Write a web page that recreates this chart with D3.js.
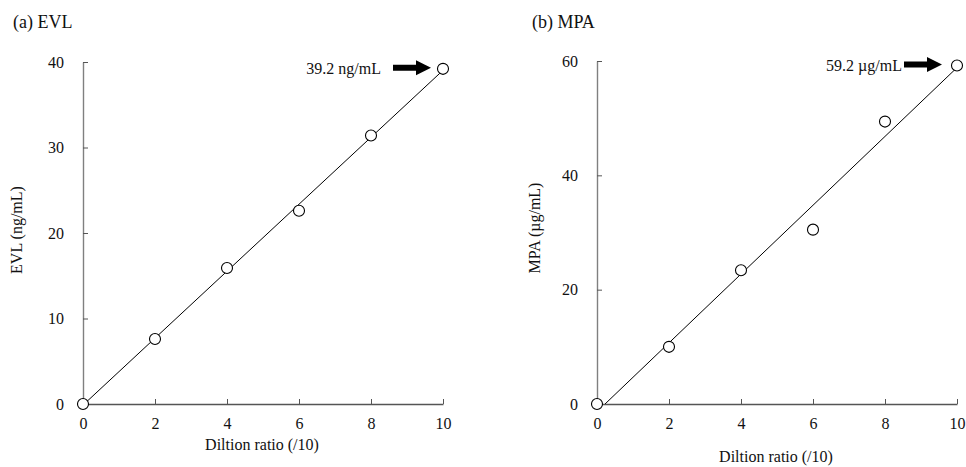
<!DOCTYPE html>
<html>
<head>
<meta charset="UTF-8">
<title>Dilution linearity (EVL / MPA)</title>
<script src="https://cdn.jsdelivr.net/npm/d3@7"></script>
<style>
body { margin: 0; background: #fff; }
svg text { font-family: "Liberation Serif", "Times New Roman", serif; fill: #111; }
</style>
</head>
<body>
<div id="plot"></div>
<script>

// data
var ratios    = [0, 2, 4, 6, 8, 10]
var evlValues = [0, 7.6, 15.9, 22.6, 31.4, 39.2]
var mpaValues = [0, 10.0, 23.4, 30.5, 49.4, 59.2]
var xTicks    = [0, 2, 4, 6, 8, 10]
var evlTicks  = [0, 10, 20, 30, 40]
var mpaTicks  = [0, 20, 40, 60]

var width = 966, height = 467
var serif = "'Liberation Serif', 'Times New Roman', serif"

var svg = d3.select("#plot").append("svg")
	.attr("width", width)
	.attr("height", height)

// panel layout (pixels), one entry per panel
var panels = [
	{ title: "(a) EVL", ylab: "EVL (ng/mL)", label: "39.2 ng/mL", values: evlValues, ymax: 40, yticks: evlTicks,
	  x0: 83, x1: 443, y0: 404, y1: 62, titleX: 13, ylabX: 22, ylabY: 230, xlabY: 450,
	  arrowGap: 12, textGap: 12 },
	{ title: "(b) MPA", ylab: "MPA (\u00b5g/mL)", label: "59.2 \u00b5g/mL", values: mpaValues, ymax: 60, yticks: mpaTicks,
	  x0: 597, x1: 957, y0: 404, y1: 61, titleX: 532, ylabX: 540, ylabY: 228, xlabY: 462,
	  arrowGap: 15, textGap: 2 }
]

// least squares fit for the trend line
function fit(xs, ys) {
	var mx = d3.mean(xs), my = d3.mean(ys)
	var sxy = d3.sum(xs, function(x, i) { return (x - mx) * (ys[i] - my) })
	var sxx = d3.sum(xs, function(x) { return (x - mx) * (x - mx) })
	var slope = sxy / sxx
	return { slope: slope, icpt: my - slope * mx }
}

function styleAxis(sel, domainColor) {
	sel.attr("font-family", null).attr("font-size", null)
	sel.select(".domain").attr("stroke", domainColor).attr("stroke-width", 1.4)
	sel.selectAll(".tick line").attr("stroke", "#555")
	sel.selectAll("text")
		.style("font-family", serif)
		.style("font-size", "16px")
		.style("fill", "#111")
}

panels.forEach(function(p) {
	var x = d3.scaleLinear().domain([0, 10]).range([p.x0, p.x1])
	var y = d3.scaleLinear().domain([0, p.ymax]).range([p.y0, p.y1])
	var g = svg.append("g")

	g.append("text")
		.attr("x", p.titleX).attr("y", 28)
		.style("font-size", "18px")
		.text(p.title)

	var yAxis = g.append("g")
		.attr("transform", "translate(" + p.x0 + ",0)")
		.call(d3.axisLeft(y).tickValues(p.yticks).tickSize(-5).tickSizeOuter(0).tickPadding(19))
	styleAxis(yAxis, "#808080")

	var xAxis = g.append("g")
		.attr("transform", "translate(0," + p.y0 + ")")
		.call(d3.axisBottom(x).tickValues(xTicks).tickSize(-5).tickSizeOuter(0).tickPadding(14))
	styleAxis(xAxis, "#555")

	g.append("text")
		.attr("transform", "translate(" + p.ylabX + "," + p.ylabY + ") rotate(-90)")
		.attr("text-anchor", "middle")
		.style("font-size", "16px")
		.text(p.ylab)

	g.append("text")
		.attr("x", (p.x0 + p.x1) / 2 - 1).attr("y", p.xlabY)
		.attr("text-anchor", "middle")
		.style("font-size", "16px")
		.text("Diltion ratio (/10)")

	// trend line, clipped at y = 0
	var f = fit(ratios, p.values)
	var xs = Math.max(0, -f.icpt / f.slope)
	g.append("line")
		.attr("x1", x(xs)).attr("y1", y(f.slope * xs + f.icpt))
		.attr("x2", x(10)).attr("y2", y(f.slope * 10 + f.icpt))
		.attr("stroke", "#000").attr("stroke-width", 1)

	g.selectAll("circle").data(p.values).enter()
		.append("circle")
		.attr("cx", function(d, i) { return x(ratios[i]) })
		.attr("cy", function(d) { return y(d) })
		.attr("r", 5.5)
		.attr("fill", "#fff").attr("stroke", "#000").attr("stroke-width", 1.1)

	// arrow pointing at the last point
	var last = p.values[p.values.length - 1]
	var tipX = x(10) - p.arrowGap, ay = y(last) - 1
	var startX = tipX - 38
	g.append("path")
		.attr("d", "M" + startX + "," + (ay - 3) + "H" + (tipX - 15) + "V" + (ay - 7.5) +
			"L" + tipX + "," + ay + "L" + (tipX - 15) + "," + (ay + 7.5) + "V" + (ay + 3) +
			"H" + startX + "Z")
		.attr("fill", "#000")

	g.append("text")
		.attr("x", startX - p.textGap).attr("y", ay + 6)
		.attr("text-anchor", "end")
		.style("font-size", "16px")
		.text(p.label)
})

</script>
</body>
</html>
